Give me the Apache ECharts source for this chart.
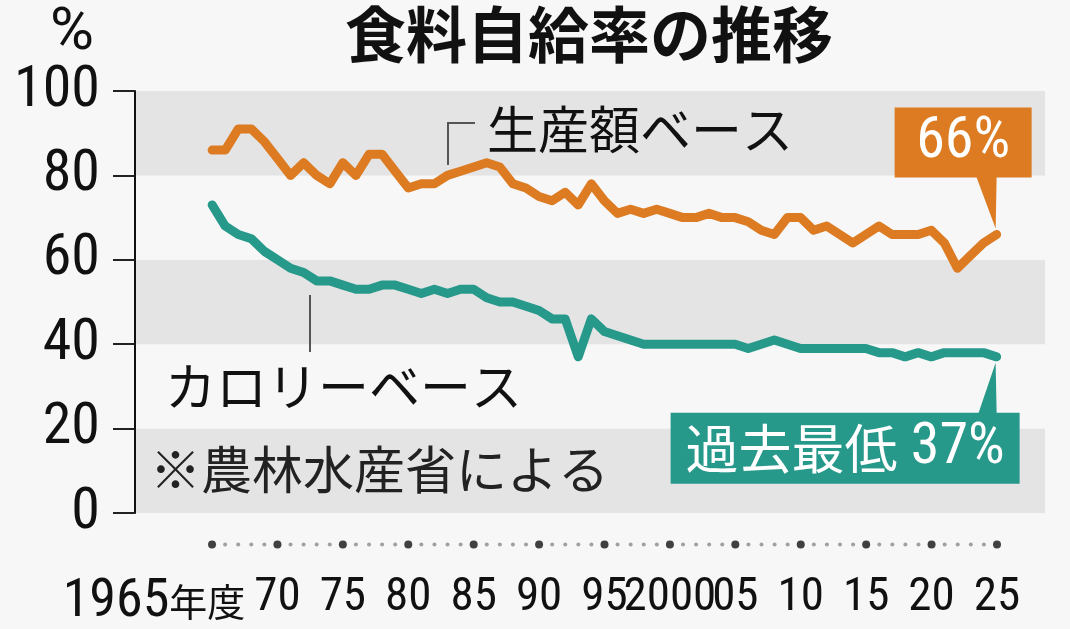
<!DOCTYPE html>
<html>
<head>
<meta charset="utf-8">
<script src="https://cdn.jsdelivr.net/npm/echarts@6/dist/echarts.min.js"></script>
<style>
html, body { margin: 0; padding: 0; background: #f7f7f7; }
#main { width: 1070px; height: 629px; }
</style>
</head>
<body>
<div id="main"></div>
<script>
// fiscal years 1965-2025
const years = [
	1965, 1966, 1967, 1968, 1969, 1970, 1971, 1972, 1973, 1974,
	1975, 1976, 1977, 1978, 1979, 1980, 1981, 1982, 1983, 1984,
	1985, 1986, 1987, 1988, 1989, 1990, 1991, 1992, 1993, 1994,
	1995, 1996, 1997, 1998, 1999, 2000, 2001, 2002, 2003, 2004,
	2005, 2006, 2007, 2008, 2009, 2010, 2011, 2012, 2013, 2014,
	2015, 2016, 2017, 2018, 2019, 2020, 2021, 2022, 2023, 2024,
	2025
];
// 生産額ベース (%)
const productionBase = [
	86, 86, 91, 91, 88, 84, 80, 83, 80, 78,
	83, 80, 85, 85, 81, 77, 78, 78, 80, 81,
	82, 83, 82, 78, 77, 75, 74, 76, 73, 78,
	74, 71, 72, 71, 72, 71, 70, 70, 71, 70,
	70, 69, 67, 66, 70, 70, 67, 68, 66, 64,
	66, 68, 66, 66, 66, 67, 64, 58, 61, 64,
	66
];
// カロリーベース (%)
const calorieBase = [
	73, 68, 66, 65, 62, 60, 58, 57, 55, 55,
	54, 53, 53, 54, 54, 53, 52, 53, 52, 53,
	53, 51, 50, 50, 49, 48, 46, 46, 37, 46,
	43, 42, 41, 40, 40, 40, 40, 40, 40, 40,
	40, 39, 40, 41, 40, 39, 39, 39, 39, 39,
	39, 38, 38, 37, 38, 37, 38, 38, 38, 38,
	37
];
const tickYears = [1965, 1970, 1975, 1980, 1985, 1990, 1995, 2000, 2005, 2010, 2015, 2020, 2025];
const tickLabels = ['1965年度', '70', '75', '80', '85', '90', '95', '2000', '05', '10', '15', '20', '25'];

// condensed digits: Roboto with font-stretch condensed
const NARROW = "Roboto, 'Noto Sans CJK JP', sans-serif";
const COND = 'condensed';
const CJK = "'Noto Sans CJK JP', 'Noto Sans', sans-serif";
const ORANGE = '#dc7b22';
const TEAL = '#26998b';

const myChart = echarts.init(document.getElementById('main'));

option = {
	backgroundColor: '#f7f7f7',
	animation: false,
	title: {
		text: '食料自給率の推移',
		left: 345,
		top: 4,
		padding: 0,
		textStyle: { fontFamily: CJK, fontSize: 61, fontWeight: 'bold', color: '#111' }
	},
	grid: [
		{ left: 135, right: 25, top: 91, bottom: 116 },
		{ left: 81.2, right: 7.6, top: 544, height: 2 }
	],
	xAxis: [
		{ gridIndex: 0, type: 'value', min: 1959.1, max: 2028.7, show: false },
		{
			gridIndex: 1,
			type: 'value',
			min: 1955,
			max: 2030,
			interval: 5,
			axisLine: { show: false },
			axisTick: { show: false },
			splitLine: { show: false },
			axisLabel: {
				margin: 30,
				color: '#111',
				fontFamily: NARROW,
				fontWeight: COND,
				fontSize: 47,
				formatter: function (v) {
					const i = tickYears.indexOf(v);
					if (i < 0) return '';
					if (i === 0) return '{y|1965}{n|年度}';
					return tickLabels[i];
				},
				rich: {
					y: { fontFamily: NARROW, fontWeight: COND, fontSize: 54, color: '#111' },
					n: { fontFamily: CJK, fontSize: 38, color: '#111', padding: [0, 116, 0, 0] }
				}
			}
		}
	],
	yAxis: [
		{
			gridIndex: 0,
			type: 'value',
			min: 0,
			max: 100,
			interval: 20,
			axisLine: { show: true, lineStyle: { color: '#111', width: 2 } },
			axisTick: { show: true, length: 22, lineStyle: { color: '#222', width: 2 } },
			axisLabel: { margin: 35, color: '#111', fontFamily: NARROW, fontWeight: COND, fontSize: 58 },
			splitLine: { show: false },
			splitArea: { show: true, areaStyle: { color: ['#e4e4e4', '#f7f7f7'] } }
		},
		{ gridIndex: 1, type: 'value', min: -1, max: 1, show: false }
	],
	series: [
		{
			name: '生産額ベース',
			type: 'line',
			data: years.map(function (y, i) { return [y, productionBase[i]]; }),
			showSymbol: false,
			lineStyle: { color: ORANGE, width: 9, cap: 'round', join: 'round' }
		},
		{
			name: 'カロリーベース',
			type: 'line',
			data: years.map(function (y, i) { return [y, calorieBase[i]]; }),
			showSymbol: false,
			lineStyle: { color: TEAL, width: 9, cap: 'round', join: 'round' }
		},
		{
			name: 'dots',
			type: 'scatter',
			xAxisIndex: 1,
			yAxisIndex: 1,
			data: years.map(function (y) { return [y, 0]; }),
			symbol: 'circle',
			symbolSize: function (val) { return tickYears.indexOf(val[0]) >= 0 ? 8 : 4; },
			itemStyle: {
				color: function (p) { return tickYears.indexOf(p.data[0]) >= 0 ? '#111' : '#8a8a8a'; }
			},
			silent: true
		}
	]
};

myChart.setOption(option);

// callouts at the last point of each line
const last = years.length - 1;
const pO = myChart.convertToPixel({ seriesIndex: 0 }, [years[last], productionBase[last]]);
const pT = myChart.convertToPixel({ seriesIndex: 1 }, [years[last], calorieBase[last]]);

const oBox = { l: pO[0] - 102, r: pO[0] + 35, t: pO[1] - 127, b: pO[1] - 57 };
const tBox = { l: pT[0] - 326, r: pT[0] + 23, t: pT[1] + 56, b: pT[1] + 127 };

myChart.setOption({
	graphic: [
		{
			type: 'text', left: 50, top: 4,
			style: { text: '%', fontFamily: NARROW, fontSize: 60, fill: '#111' }
		},
		{
			type: 'text', x: 487, y: 130,
			style: { text: '生産額ベース', fontFamily: CJK, fontSize: 51, fill: '#111', verticalAlign: 'middle' }
		},
		{
			type: 'polyline',
			shape: { points: [[448, 165], [448, 123], [475, 123]] },
			style: { stroke: '#555', lineWidth: 2, fill: null }
		},
		{
			type: 'text', x: 165, y: 387,
			style: { text: 'カロリーベース', fontFamily: CJK, fontSize: 51, fill: '#111', verticalAlign: 'middle' }
		},
		{
			type: 'line',
			shape: { x1: 310, y1: 295, x2: 310, y2: 352 },
			style: { stroke: '#555', lineWidth: 2 }
		},
		{
			type: 'text', x: 150, y: 470,
			style: { text: '※農林水産省による', fontFamily: CJK, fontSize: 51, fill: '#222', verticalAlign: 'middle' }
		},
		{
			type: 'polygon',
			shape: { points: [[oBox.l, oBox.t], [oBox.r, oBox.t], [oBox.r, oBox.b], [pO[0], oBox.b], [pO[0] - 1, pO[1] - 6], [pO[0] - 20, oBox.b], [oBox.l, oBox.b]] },
			style: { fill: ORANGE }
		},
		{
			type: 'text', x: (oBox.l + oBox.r) / 2, y: (oBox.t + oBox.b) / 2,
			style: { text: '66%', fontFamily: NARROW, fontWeight: COND, fontSize: 58, fill: '#fff', align: 'center', verticalAlign: 'middle' }
		},
		{
			type: 'polygon',
			shape: { points: [[tBox.l, tBox.t], [pT[0] - 18, tBox.t], [pT[0] - 1, pT[1] + 6], [pT[0], tBox.t], [tBox.r, tBox.t], [tBox.r, tBox.b], [tBox.l, tBox.b]] },
			style: { fill: TEAL }
		},
		{
			type: 'text', x: (tBox.l + tBox.r) / 2, y: (tBox.t + tBox.b) / 2,
			style: {
				text: '{c|過去最低}{n| 37%}',
				align: 'center',
				verticalAlign: 'middle',
				rich: {
					c: { fontFamily: CJK, fontSize: 53, fill: '#fff' },
					n: { fontFamily: NARROW, fontWeight: COND, fontSize: 58, fill: '#fff' }
				}
			}
		}
	]
});
</script>
</body>
</html>
